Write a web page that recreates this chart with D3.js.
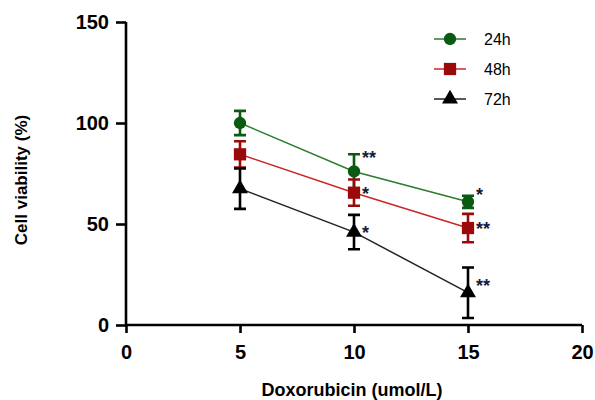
<!DOCTYPE html>
<html><head><meta charset="utf-8">
<script src="https://cdn.jsdelivr.net/npm/d3@7"></script>
<style>body{margin:0;background:#fff}svg{display:block}text{font-family:"Liberation Sans",Arial,sans-serif}</style>
</head><body><svg id="c" width="595" height="400"></svg>
<script>
const doses = [5, 10, 15];
const seriesNames = ["24h", "48h", "72h"];
const mean24 = [100, 76, 61];
const err24 = [6, 8.5, 3];
const mean48 = [84.5, 65.5, 48];
const err48 = [6.5, 6.5, 7];
const mean72 = [67.5, 46, 16];
const err72 = [10, 8.5, 12.5];
const sig24 = ["", "**", "*"];
const sig48 = ["", "*", "**"];
const sig72 = ["", "*", "**"];
const xTicks = [0, 5, 10, 15, 20];
const yTicks = [0, 50, 100, 150];

const series = [
  {name: seriesNames[0], mean: mean24, err: err24, sig: sig24, line: "#2a7d2a", fill: "#0a5a12", shape: d3.symbolCircle, size: 120},
  {name: seriesNames[1], mean: mean48, err: err48, sig: sig48, line: "#c82828", fill: "#9a0a0a", shape: d3.symbolSquare, size: 150},
  {name: seriesNames[2], mean: mean72, err: err72, sig: sig72, line: "#222", fill: "#000", shape: d3.symbolTriangle, size: 110}
];

const svg = d3.select("#c");
const x = d3.scaleLinear().domain([0, 20]).range([126, 582]);
const y = d3.scaleLinear().domain([0, 150]).range([325, 22]);

// axes
const xAxis = svg.append("g").attr("transform", "translate(0,325)")
  .call(d3.axisBottom(x).tickValues(xTicks).tickSize(8).tickPadding(12));
const yAxis = svg.append("g").attr("transform", "translate(126,0)")
  .call(d3.axisLeft(y).tickValues(yTicks).tickSize(10).tickPadding(7));
[xAxis, yAxis].forEach(g => {
  g.select(".domain").attr("stroke", "#000").attr("stroke-width", 2.6);
  g.selectAll(".tick line").attr("stroke", "#000").attr("stroke-width", 2.6);
  g.selectAll(".tick text").attr("fill", "#000").style("font-size", "20px").style("font-weight", "bold");
});
xAxis.select(".domain").attr("d", `M${x(0)},0H${x(20)}`);
yAxis.select(".domain").attr("d", `M0,${y(150)}V${y(0)}`);

svg.append("text").attr("x", 352).attr("y", 396).attr("text-anchor", "middle")
  .style("font-size", "18px").style("font-weight", "bold").text("Doxorubicin (umol/L)");
svg.append("text").attr("transform", "translate(27,180) rotate(-90)").attr("text-anchor", "middle")
  .style("font-size", "17px").style("font-weight", "bold").text("Cell viability (%)");

const line = d3.line().x((d, i) => x(doses[i])).y(d => y(d));

series.forEach(s => {
  svg.append("path").datum(s.mean).attr("d", line).attr("fill", "none")
    .attr("stroke", s.line).attr("stroke-width", 1.5);
});
series.forEach(s => {
  const g = svg.append("g");
  s.mean.forEach((m, i) => {
    const cx = x(doses[i]);
    const t = y(m + s.err[i]), b = y(m - s.err[i]);
    g.append("path").attr("d", `M${cx},${t}V${b}M${cx-6},${t}H${cx+6}M${cx-6},${b}H${cx+6}`)
      .attr("stroke", s.fill).attr("stroke-width", 2.6).attr("fill", "none");
    g.append("path").attr("d", d3.symbol().type(s.shape).size(s.size)())
      .attr("transform", `translate(${cx},${y(m)})`).attr("fill", s.fill);
    if (s.sig[i]) {
      g.append("text").attr("x", cx + 8).attr("y", y(m) + 7)
        .style("font-size", "18px").style("font-weight", "bold").attr("fill", "#1a1a3a")
        .attr("dy", s === series[0] && i === 1 ? "-14" : (s === series[0] && i === 2 ? "-8" : (s === series[2] && i === 2 ? "-8" : "0")))
        .text(s.sig[i]);
    }
  });
});

// legend
const legY = [39, 69, 99];
series.forEach((s, i) => {
  const g = svg.append("g").attr("transform", `translate(434,${legY[i]})`);
  g.append("line").attr("x1", 0).attr("x2", 32).attr("stroke", s.line).attr("stroke-width", 1.5);
  g.append("path").attr("d", d3.symbol().type(s.shape).size(s.size)()).attr("transform", "translate(16,0)").attr("fill", s.fill);
  g.append("text").attr("x", 50).attr("y", 6).style("font-size", "16px").text(s.name);
});
</script></body></html>
